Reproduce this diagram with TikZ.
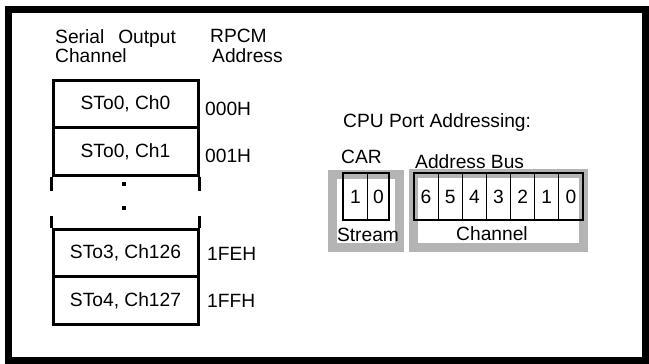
\documentclass[tikz,border=0pt]{standalone}
\usepackage{fontspec}
\setmainfont{Liberation Sans}
\definecolor{frameGray}{RGB}{180,180,180}
\begin{document}
\begin{tikzpicture}[x=1pt,y=-1pt,
  font=\fontsize{19.2}{22}\selectfont,
  rowbox/.style={draw, line width=3pt, minimum width=145pt, minimum height=47.5pt, inner sep=0pt},
  lbl/.style={anchor=base west, inner sep=0pt},
  clbl/.style={anchor=base, inner sep=0pt},
  cell/.style={draw, line width=1.1pt, minimum height=47pt, inner sep=0pt},
  grayframe/.style={draw=frameGray, line width=9pt, inner sep=0pt},
  dotsq/.style={fill=black, minimum size=4pt, inner sep=0pt}]
\useasboundingbox (0,0) rectangle (649,364);
% outer frame
\node[draw, line width=7pt, minimum width=637pt, minimum height=350.5pt, inner sep=0pt] (frame) at (327,184.75) {};

% headers
\node[lbl] (h1) at (55,43) {Serial\hspace{14pt}Output};
\node[lbl] (h2) at (55,63) {Channel};
\node[lbl] (h3) at (210,42) {RPCM};
\node[lbl] (h4) at (212,63) {Address};

% rows
\node[rowbox] (r1) at (125.5,104) {STo0, Ch0};
\node[rowbox] (r2) at (125.5,151.5) {STo0, Ch1};
\node[rowbox] (r3) at (125.5,253) {STo3, Ch126};
\node[rowbox] (r4) at (125.5,300.5) {STo4, Ch127};
\coordinate (e1) at ([yshift=-14pt]r2.south west);
\coordinate (e2) at ([yshift=-14pt]r2.south east);
\coordinate (e3) at ([yshift=12pt]r3.north west);
\coordinate (e4) at ([yshift=12pt]r3.north east);
\draw[line width=3pt] (r2.south west) -- (e1);
\draw[line width=3pt] (r2.south east) -- (e2);
\draw[line width=3pt] (r3.north west) -- (e3);
\draw[line width=3pt] (r3.north east) -- (e4);
\node[dotsq] (d1) at (124,184) {};
\node[dotsq] (d2) at (124,208) {};

% addresses
\node[lbl] (a1) at (205,115) {000H};
\node[lbl] (a2) at (205,162) {001H};
\node[lbl] (a3) at (207,260) {1FEH};
\node[lbl] (a4) at (207,307) {1FFH};

% CPU port addressing
\node[lbl] (cpu) at (343,127) {CPU Port Addressing:};
\node[lbl] (car) at (341,163) {CAR};
\node[lbl] (ab) at (415,168) {Address Bus};

\node[grayframe, minimum width=66.5pt, minimum height=73pt] (carbox) at (365.75,210.5) {};
\node[grayframe, minimum width=169.5pt, minimum height=73.5pt] (abbox) at (498.25,210.25) {};

\node[cell, minimum width=24.7pt] (c1) at (355.35,196.5) {1};
\node[cell, minimum width=21.3pt] (c0) at (378.35,196.5) {0};

\foreach \d [count=\i from 0] in {6,5,4,3,2,1,0} {
  \node[cell, minimum width=24.14pt] (b\d) at ({426.07+24.14*\i},196.5) {\d};
}

\node[clbl] (st) at (368,241) {Stream};
\node[clbl] (ch) at (492,240) {Channel};
\end{tikzpicture}
\end{document}
